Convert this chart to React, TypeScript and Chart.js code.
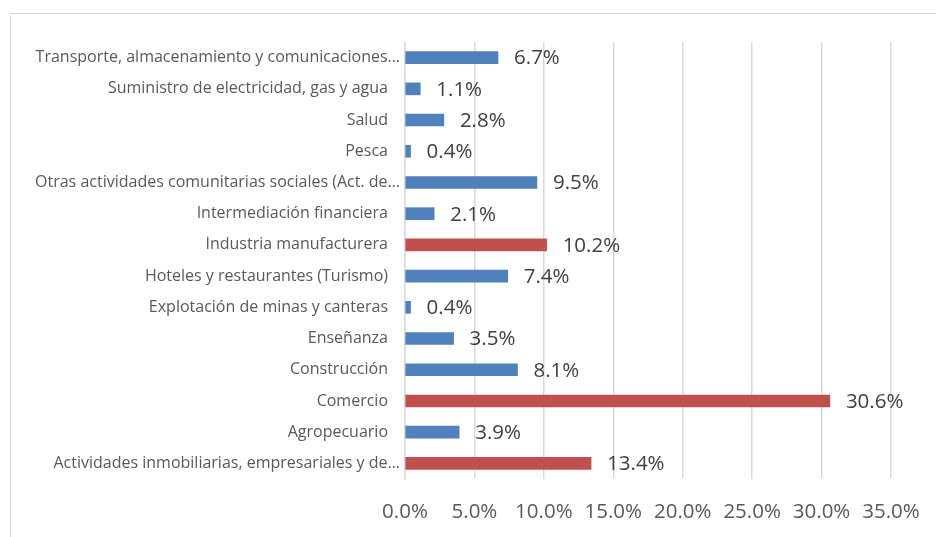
import React, { useEffect, useRef } from "react";
import { Chart, registerables } from "chart.js";

Chart.register(...registerables);

const categories = [
  "Transporte, almacenamiento y comunicaciones…",
  "Suministro de electricidad, gas y agua",
  "Salud",
  "Pesca",
  "Otras actividades comunitarias sociales (Act. de…",
  "Intermediación financiera",
  "Industria manufacturera",
  "Hoteles y restaurantes (Turismo)",
  "Explotación de minas y canteras",
  "Enseñanza",
  "Construcción",
  "Comercio",
  "Agropecuario",
  "Actividades inmobiliarias, empresariales y de…",
];

const values = [6.7, 1.1, 2.8, 0.4, 9.5, 2.1, 10.2, 7.4, 0.4, 3.5, 8.1, 30.6, 3.9, 13.4];

const highlighted = [
  "Industria manufacturera",
  "Comercio",
  "Actividades inmobiliarias, empresariales y de…",
];

const BLUE = "#4F81BD";
const RED = "#C0504D";
const FONT = "'Open Sans', 'Noto Sans', sans-serif";

const dataLabels = {
  id: "dataLabels",
  afterDatasetsDraw(chart: any) {
    const ctx = chart.ctx;
    const meta = chart.getDatasetMeta(0);
    ctx.save();
    ctx.font = `20.5px ${FONT}`;
    ctx.fillStyle = "#404040";
    ctx.textAlign = "left";
    ctx.textBaseline = "middle";
    meta.data.forEach((bar: any, i: number) => {
      const v = chart.data.datasets[0].data[i] as number;
      ctx.fillText(v.toFixed(1) + "%", bar.x + 16, bar.y + 1);
    });
    // category labels (truncated labels sit closer to the axis, as in the source)
    const ys = chart.scales.y;
    ctx.font = `16px ${FONT}`;
    ctx.fillStyle = "#595959";
    ctx.textAlign = "right";
    ctx.textBaseline = "middle";
    categories.forEach((c, i) => {
      const y = ys.getPixelForTick(i);
      const x = c.endsWith("…") ? ys.right - 5 : ys.right - 17;
      ctx.fillText(c, x, y);
    });
    ctx.restore();
  },
};

export default function App() {
  const ref = useRef<HTMLCanvasElement>(null);

  useEffect(() => {
    if (!ref.current) return;
    const chart = new Chart(ref.current, {
      type: "bar",
      data: {
        labels: categories,
        datasets: [
          {
            data: values,
            backgroundColor: categories.map((c) => (highlighted.includes(c) ? RED : BLUE)),
            barThickness: 12,
            borderWidth: 0,
          },
        ],
      },
      options: {
        indexAxis: "y",
        animation: false,
        responsive: false,
        maintainAspectRatio: false,
        layout: { padding: { top: 42, right: 45, bottom: 0, left: 0 } },
        plugins: {
          legend: { display: false },
          tooltip: { enabled: false },
        },
        scales: {
          x: {
            min: 0,
            max: 35,
            ticks: {
              stepSize: 5,
              padding: 21,
              color: "#595959",
              font: { family: FONT, size: 20.5 },
              callback: (v: any) => Number(v).toFixed(1) + "%",
            },
            grid: { color: "#D9D9D9", lineWidth: 1.5, drawTicks: false },
            border: { display: false },
            afterFit: (s: any) => {
              s.height = 58;
              s.paddingLeft = 0;
              s.paddingRight = 0;
            },
          },
          y: {
            ticks: { display: false, autoSkip: false },
            grid: { display: false, drawTicks: false },
            border: { display: true, color: "#D9D9D9", width: 1.5 },
            afterFit: (s: any) => {
              s.width = 405;
            },
          },
        },
      },
      plugins: [dataLabels],
    });
    return () => chart.destroy();
  }, []);

  return (
    <div
      style={{
        position: "fixed",
        left: 0,
        top: 0,
        width: 936,
        height: 537,
        overflow: "hidden",
        background: "#fff",
      }}
    >
      <div
        style={{
          position: "absolute",
          left: 10,
          top: 13,
          width: 1000,
          height: 600,
          borderLeft: "1px solid #D9D9D9",
          borderTop: "1px solid #D9D9D9",
        }}
      />
      <canvas
        ref={ref}
        width={936}
        height={537}
        style={{ position: "absolute", left: 0, top: 0, width: 936, height: 537 }}
      />
    </div>
  );
}
